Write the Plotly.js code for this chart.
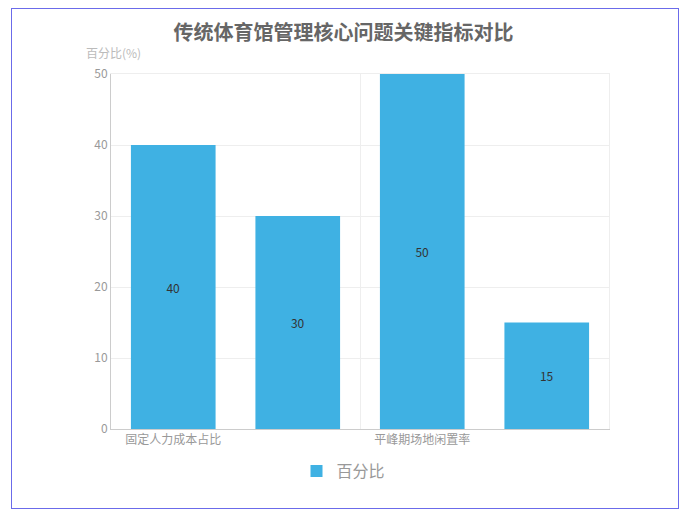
<!DOCTYPE html>
<html>
<head>
<meta charset="utf-8">
<script src="https://cdn.plot.ly/plotly-3.0.1.min.js"></script>
<style>
  html, body { margin: 0; padding: 0; background: #fff; }
  #frame { position: absolute; left: 11px; top: 8px; width: 668px; height: 501px; border: 1px solid #6b6bea; box-sizing: border-box; }
  #chart { position: absolute; left: 0; top: 0; width: 687px; height: 519px; }
</style>
</head>
<body>
<div id="frame"></div>
<div id="chart"></div>
<script>
// Data
const chartTitle = "传统体育馆管理核心问题关键指标对比";
const yAxisLabel = "百分比(%)";
const seriesName = "百分比";
const categories = ["固定人力成本占比", "高峰期预约冲突率", "平峰期场地闲置率", "数字化管理覆盖率"];
const values = [40, 30, 50, 15];
const shownTickLabels = ["固定人力成本占比", "平峰期场地闲置率"];
const yTicks = [0, 10, 20, 30, 40, 50];

const font = '"Noto Sans CJK SC", "Noto Sans", sans-serif';

const traces = [
  {
    type: 'bar',
    name: seriesName,
    x: categories,
    y: values,
    text: values.map(String),
    textposition: 'inside',
    insidetextanchor: 'middle',
    textfont: { color: '#333', size: 12, family: font },
    marker: { color: '#3fb1e3', line: { width: 0 } },
    hoverinfo: 'x+y'
  },
  {
    type: 'scatter', x: [], y: [], xaxis: 'x2', yaxis: 'y2', showlegend: false, hoverinfo: 'skip'
  }
];

const layout = {
  width: 687, height: 519,
  margin: { l: 111, r: 78, t: 74, b: 90 },
  paper_bgcolor: 'rgba(0,0,0,0)',
  plot_bgcolor: '#fff',
  font: { family: font, color: '#999', size: 12 },
  title: {
    text: chartTitle,
    font: { size: 20, color: '#666', family: font, weight: 'bold' },
    x: 0.5, xref: 'container', xanchor: 'center',
    y: 1 - 33 / 519, yref: 'container', yanchor: 'middle'
  },
  bargap: 0.32,
  xaxis: {
    type: 'category',
    categoryorder: 'array',
    categoryarray: categories,
    range: [-0.5, categories.length - 0.5],
    tickvals: shownTickLabels,
    ticktext: shownTickLabels,
    tickfont: { color: '#999', size: 12, family: font },
    showgrid: false,
    showline: true, linecolor: '#ccc', linewidth: 1,
    ticks: '', zeroline: false, fixedrange: true
  },
  xaxis2: {
    overlaying: 'x',
    side: 'top',
    type: 'linear',
    range: [-0.5, categories.length - 0.5],
    tick0: -0.5, dtick: 2,
    showgrid: true, gridcolor: '#eee', gridwidth: 1,
    showline: true, linecolor: '#eee', linewidth: 1,
    showticklabels: false, ticks: '', zeroline: false,
    layer: 'below traces'
  },
  yaxis: {
    range: [0, 50],
    tickvals: yTicks,
    tickfont: { color: '#999', size: 12, family: font },
    showgrid: true, gridcolor: '#eee', gridwidth: 1,
    showline: true, linecolor: '#ccc', linewidth: 1,
    ticks: '', ticklen: 0, zeroline: false, fixedrange: true
  },
  yaxis2: {
    overlaying: 'y',
    side: 'right',
    range: [0, 50],
    showgrid: false,
    showline: true, linecolor: '#eee', linewidth: 1,
    showticklabels: false, ticks: '', zeroline: false,
    layer: 'below traces'
  },
  showlegend: true,
  legend: {
    orientation: 'h',
    x: 0.5, xref: 'container', xanchor: 'center',
    y: 1 - 471 / 519, yref: 'container', yanchor: 'middle',
    font: { size: 16, color: '#999', family: font },
    bgcolor: 'rgba(0,0,0,0)'
  },
  annotations: [
    {
      text: yAxisLabel,
      xref: 'paper', yref: 'paper',
      x: (84 - 111) / 498, xanchor: 'left',
      y: (429 - 52) / 355, yanchor: 'middle',
      showarrow: false,
      font: { size: 12, color: '#bbb', family: font }
    }
  ]
};

Plotly.newPlot('chart', traces, layout, { displayModeBar: false, staticPlot: true });
</script>
</body>
</html>
